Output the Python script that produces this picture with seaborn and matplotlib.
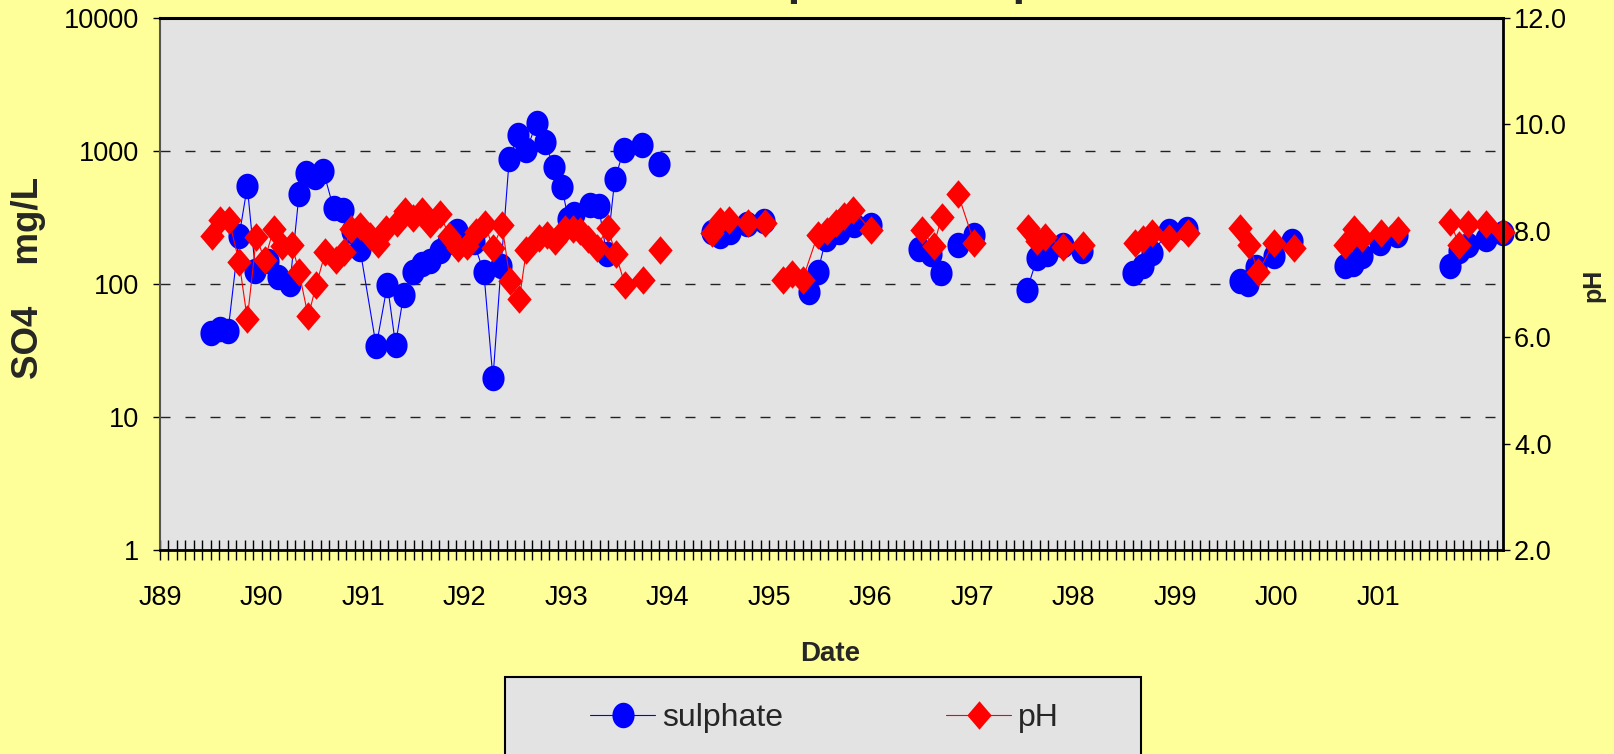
import numpy as np
import pandas as pd
import matplotlib
matplotlib.use("Agg")
import matplotlib.pyplot as plt
from matplotlib.path import Path
from matplotlib.lines import Line2D
from matplotlib.patches import Rectangle
import seaborn as sns

nan = np.nan

# ---- data (decimal years; nan marks a break in the line) ----
so4_year = [1989.50, 1989.59, 1989.67, 1989.78, 1989.86, 1989.94, 1990.06, 1990.16, 1990.28,
            1990.37, 1990.44, 1990.53, 1990.61, 1990.71, 1990.80, 1990.89, 1990.97, 1991.13,
            1991.24, 1991.32, 1991.40, 1991.49, 1991.58, 1991.66, 1991.76, 1991.84, 1991.93,
            1992.09, 1992.19, 1992.28, 1992.36, 1992.44, 1992.53, 1992.61, 1992.71, 1992.79,
            1992.88, 1992.96, 1993.02, 1993.08, 1993.24, 1993.32, 1993.40, 1993.48, 1993.57,
            nan, 1993.75, nan, 1993.92, nan,
            1994.44, 1994.52, 1994.62, 1994.78, 1994.95, nan,
            1995.39, 1995.48, 1995.56, 1995.69, 1995.84, 1996.00, nan,
            1996.48, 1996.60, 1996.69, nan, 1996.86, 1997.02, nan,
            1997.54, 1997.64, 1997.74, 1997.90, 1998.08, nan,
            1998.59, 1998.68, 1998.77, 1998.94, 1999.12, nan,
            1999.64, 1999.72, 1999.80, 1999.97, 2000.15, nan,
            2000.67, 2000.75, 2000.84, 2001.02, 2001.19, nan,
            2001.71, 2001.80, 2001.89, 2002.06, 2002.23]
so4_mgL = [43, 46, 44, 231, 541, 126, 150, 112, 100,
           476, 686, 637, 702, 371, 357, 250, 184, 34,
           99, 35, 83, 123, 141, 150, 178, 206, 251,
           206, 123, 19.5, 137, 865, 1327, 1012, 1633, 1170,
           760, 535, 310, 336, 394, 385, 168, 611, 1025,
           nan, 1115, nan, 795, nan,
           248, 231, 248, 283, 300, nan,
           87, 123, 219, 246, 276, 279, nan,
           184, 167, 121, nan, 195, 233, nan,
           90, 156, 168, 195, 178, nan,
           121, 137, 170, 251, 259, nan,
           106, 100, 134, 163, 212, nan,
           137, 141, 163, 203, 234, nan,
           137, 178, 195, 218, 242]

ph_year = [1989.51, 1989.59, 1989.68, 1989.78, 1989.86, 1989.95, 1990.03, 1990.12, 1990.20,
           1990.30, 1990.37, 1990.46, 1990.54, 1990.63, 1990.73, 1990.81, 1990.88, 1990.97,
           1991.07, 1991.15, 1991.23, 1991.33, 1991.41, 1991.49, 1991.58, 1991.66, 1991.76,
           1991.85, 1991.94, 1992.02, 1992.11, 1992.20, 1992.28, 1992.37, 1992.45, 1992.54,
           1992.61, 1992.73, 1992.81, 1992.89, 1992.99, 1993.07, 1993.14, 1993.22, 1993.30,
           1993.41, 1993.49, 1993.58, nan, 1993.76, nan, 1993.93, nan,
           1994.44, 1994.52, 1994.61, 1994.79, 1994.96, nan,
           1995.14, 1995.23, 1995.33, 1995.48, 1995.57, 1995.66, 1995.74, 1995.83, 1996.00, nan,
           1996.51, 1996.62, 1996.70, nan, 1996.86, 1997.02, nan,
           1997.55, 1997.64, 1997.72, 1997.90, 1998.09, nan,
           1998.60, 1998.68, 1998.77, 1998.94, 1999.13, nan,
           1999.64, 1999.73, 1999.82, 1999.97, 2000.17, nan,
           2000.67, 2000.76, 2000.84, 2001.03, 2001.20, nan,
           2001.71, 2001.80, 2001.89, 2002.06, 2002.23]
ph_value = [7.90, 8.21, 8.20, 7.41, 6.34, 7.89, 7.45, 8.03, 7.71,
            7.74, 7.22, 6.39, 6.99, 7.60, 7.46, 7.61, 8.04, 8.09,
            7.90, 7.76, 8.03, 8.15, 8.37, 8.24, 8.37, 8.12, 8.31,
            7.90, 7.68, 7.71, 7.98, 8.12, 7.68, 8.10, 7.05, 6.72,
            7.64, 7.87, 7.93, 7.81, 8.03, 8.03, 8.00, 7.84, 7.68,
            8.06, 7.56, 6.99, nan, 7.08, nan, 7.64, nan,
            7.96, 8.18, 8.20, 8.15, 8.15, nan,
            7.08, 7.18, 7.08, 7.93, 8.00, 8.15, 8.28, 8.40, 8.01, nan,
            8.01, 7.71, 8.25, nan, 8.70, 7.78, nan,
            8.06, 7.81, 7.89, 7.70, 7.73, nan,
            7.78, 7.85, 7.96, 7.87, 7.96, nan,
            8.06, 7.73, 7.22, 7.78, 7.68, nan,
            7.73, 8.03, 7.87, 7.96, 8.01, nan,
            8.16, 7.73, 8.12, 8.12, 7.98]

year_ticks = list(range(1989, 2002))
year_labels = ["J89", "J90", "J91", "J92", "J93", "J94", "J95", "J96",
               "J97", "J98", "J99", "J00", "J01"]
so4_ticks = [1, 10, 100, 1000, 10000]
ph_ticks = [2.0, 4.0, 6.0, 8.0, 10.0, 12.0]
series_names = ["sulphate", "pH"]
title_text = "Sulphate and pH"


def to_runs(x, y):
    x = np.asarray(x, float)
    y = np.asarray(y, float)
    brk = np.isnan(x)
    run = np.cumsum(brk)
    return pd.DataFrame({"year": x[~brk], "val": y[~brk], "run": run[~brk]})


df_so4 = to_runs(so4_year, so4_mgL)
df_ph = to_runs(ph_year, ph_value)

sns.set_theme(style="white")
FAM = ["Liberation Sans", "DejaVu Sans"]
plt.rcParams["font.family"] = FAM

W, H = 1615, 754
BG = "#FFFF99"
PLOT_BG = "#E3E3E3"
BLUE = "#0000FF"
RED = "#FF0000"

fig = plt.figure(figsize=(W / 100, H / 100), dpi=100, facecolor=BG)
L, R, T, B = 160, 1503, 18, 550
ax = fig.add_axes([L / W, 1 - B / H, (R - L) / W, (B - T) / H])
ax.set_facecolor(PLOT_BG)
ax.set_yscale("log")
ax.set_ylim(1, 10000)
ax.set_xlim(1989.0, 2002.23)

# markers
t = np.linspace(0, 2 * np.pi, 72)
ellipse = Path(np.column_stack([np.cos(t), 1.15 * np.sin(t)]), closed=True)
diamond = Path([(0, 1.17), (1, 0), (0, -1.17), (-1, 0), (0, 1.17)], closed=True)
px = 0.72  # points per pixel at 100 dpi

sns.lineplot(data=df_so4, x="year", y="val", units="run", estimator=None, sort=False,
             color=BLUE, linewidth=0.8, marker=ellipse, markersize=25.5 * px,
             markeredgewidth=0, markerfacecolor=BLUE, clip_on=False, legend=False, ax=ax)

ax2 = ax.twinx()
ax2.set_ylim(2, 12)
sns.lineplot(data=df_ph, x="year", y="val", units="run", estimator=None, sort=False,
             color=RED, linewidth=0.8, marker=diamond, markersize=28.5 * px,
             markeredgewidth=0, markerfacecolor=RED, clip_on=False, legend=False, ax=ax2)
ax2.set_xlim(1989.0, 2002.23)

# grid
ax.set_axisbelow(True)
ax.yaxis.grid(True, which="major", color="#222222", linewidth=1.0, linestyle=(0, (7.2, 10.8)))
ax.xaxis.grid(False)
ax.yaxis.grid(False, which="minor")

# left axis ticks
ax.set_yticks(so4_ticks)
ax.set_yticklabels([str(v) for v in so4_ticks])
ax.yaxis.set_minor_locator(matplotlib.ticker.NullLocator())
ax.tick_params(axis="y", which="major", direction="out", length=5, width=1, pad=10,
               labelsize=19.5, colors="black", left=True)

# bottom ticks
ax.set_xticks(year_ticks)
ax.set_xticklabels(year_labels)
months = [y + m / 12 for y in range(1989, 2003) for m in range(12)]
ax.set_xticks([m for m in months if m <= 2002.23], minor=True)
ax.tick_params(axis="x", which="both", direction="inout", length=14.4, width=1,
               colors="black", bottom=True)
ax.tick_params(axis="x", which="major", pad=18, labelsize=19.5)

# right axis ticks
ax2.set_yticks(ph_ticks)
ax2.set_yticklabels([f"{v:.1f}" for v in ph_ticks])
ax2.tick_params(axis="y", direction="out", length=5, width=1, pad=3, labelsize=19.5,
                colors="black", right=True)
ax2.set_ylabel("")
ax.set_xlabel("")
ax.set_ylabel("")

for a in (ax, ax2):
    for s in a.spines.values():
        s.set_visible(False)
ax.spines["top"].set(visible=True, color="black", linewidth=2.2)
ax.spines["bottom"].set(visible=True, color="black", linewidth=2.0)
ax.spines["left"].set(visible=True, color="#555555", linewidth=1.5)
ax2.spines["right"].set(visible=True, color="black", linewidth=2.0)

# axis labels
fig.text(29 / W, 1 - 278 / H, "SO4    mg/L", rotation=90, ha="center", va="center",
         fontsize=26.5, fontweight="bold")
fig.text(1593 / W, 1 - 285 / H, "pH", rotation=90, ha="center", va="center",
         fontsize=18, fontweight="bold")
fig.text(830 / W, 1 - 654 / H, "Date", ha="center", va="center",
         fontsize=20, fontweight="bold")

# title (mostly above the visible canvas, only descenders show)
fig.text(718 / W, 1 + 5 / H, title_text, ha="left", va="baseline", fontsize=32.4,
         fontweight="bold")

# legend box and legend
fig.patches.append(Rectangle((505 / W, -0.02), (1141 - 505) / W, (754 - 677) / H + 0.02,
                             transform=fig.transFigure, facecolor=PLOT_BG,
                             edgecolor="black", linewidth=1.5, zorder=0))
handles = [Line2D([], [], color=BLUE, lw=0.8, marker=ellipse, markersize=25.5 * px,
                  markeredgewidth=0),
           Line2D([], [], color=RED, lw=0.8, marker=diamond, markersize=28.5 * px,
                  markeredgewidth=0)]
fig.legend(handles, series_names, loc="center left", bbox_to_anchor=(590 / W, 1 - 718 / H),
           ncol=2, frameon=False, fontsize=23, handlelength=2.05, handletextpad=0.2,
           columnspacing=5.1, borderpad=0, borderaxespad=0)

fig.savefig("out.png", dpi=100, facecolor=BG)
